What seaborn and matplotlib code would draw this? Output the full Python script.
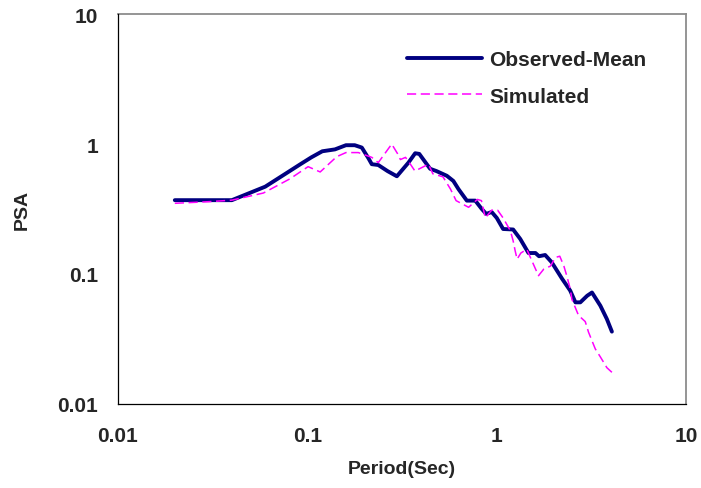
import numpy as np
import pandas as pd
import matplotlib
matplotlib.use("Agg")
import matplotlib.pyplot as plt
from matplotlib.ticker import FixedLocator, NullLocator
import seaborn as sns

# Observed mean spectrum (period in sec, PSA)
obs_period = [0.02, 0.04, 0.06, 0.078, 0.092, 0.105, 0.12, 0.14, 0.16, 0.178, 0.194,
              0.21, 0.219, 0.237, 0.265, 0.297, 0.342, 0.371, 0.39, 0.41, 0.445, 0.48,
              0.545, 0.59, 0.628, 0.695, 0.77, 0.834, 0.88, 0.94, 1.0, 1.08, 1.22, 1.33,
              1.47, 1.60, 1.67, 1.80, 1.95, 2.21, 2.44, 2.6, 2.76, 3.0, 3.18, 3.52, 3.81, 4.05]
obs_psa = [0.37, 0.37, 0.47, 0.60, 0.70, 0.79, 0.88, 0.91, 0.98, 0.98, 0.94,
           0.78, 0.70, 0.69, 0.62, 0.565, 0.72, 0.85, 0.84, 0.76, 0.645, 0.62,
           0.57, 0.52, 0.45, 0.367, 0.367, 0.316, 0.29, 0.30, 0.27, 0.222, 0.22, 0.186,
           0.145, 0.145, 0.137, 0.14, 0.123, 0.092, 0.0745, 0.0605, 0.0605, 0.068, 0.072, 0.057, 0.045, 0.036]

# Simulated spectrum
sim_period = [0.02, 0.03, 0.04, 0.0587, 0.081, 0.101, 0.117, 0.143, 0.16, 0.186, 0.219,
              0.237, 0.279, 0.30, 0.31, 0.33, 0.35, 0.37, 0.436, 0.46, 0.52, 0.57, 0.61,
              0.71, 0.79, 0.83, 0.87, 0.94, 1.01, 1.08, 1.18, 1.22, 1.25, 1.28, 1.34, 1.44,
              1.56, 1.66, 1.77, 1.92, 2.04, 2.15, 2.26, 2.34, 2.44, 2.49, 2.70, 2.93, 3.05,
              3.31, 3.52, 3.81, 4.05]
sim_psa = [0.35, 0.36, 0.37, 0.42, 0.54, 0.67, 0.61, 0.80, 0.86, 0.86, 0.79,
           0.72, 1.0, 0.84, 0.76, 0.79, 0.70, 0.62, 0.70, 0.59, 0.56, 0.45, 0.367,
           0.326, 0.375, 0.367, 0.27, 0.31, 0.31, 0.27, 0.215, 0.18, 0.151, 0.13, 0.145, 0.155,
           0.119, 0.097, 0.109, 0.115, 0.134, 0.137, 0.115, 0.097, 0.077, 0.064, 0.048, 0.043, 0.0356,
           0.0265, 0.023, 0.019, 0.0175]

tick_vals = [0.01, 0.1, 1, 10]
tick_labels = ["0.01", "0.1", "1", "10"]

sns.set_style("white")
plt.rcParams['font.family'] = ['Liberation Sans', 'DejaVu Sans']

fig = plt.figure(figsize=(7.01, 4.89), dpi=100)
ax = fig.add_axes([0.168, 0.172, 0.811, 0.797])

sns.lineplot(x=obs_period, y=obs_psa, sort=False, ax=ax, color="#000080",
             linewidth=2.8, label="Observed-Mean")
sns.lineplot(x=sim_period, y=sim_psa, sort=False, ax=ax, color="#FF00FF",
             linewidth=1.1, label="Simulated")
ax.lines[1].set_dashes([6, 3])

ax.set_xscale("log")
ax.set_yscale("log")
ax.set_xlim(0.01, 10)
ax.set_ylim(0.01, 10)
ax.xaxis.set_major_locator(FixedLocator(tick_vals))
ax.yaxis.set_major_locator(FixedLocator(tick_vals))
ax.xaxis.set_minor_locator(NullLocator())
ax.yaxis.set_minor_locator(NullLocator())
ax.set_xticklabels(tick_labels, fontsize=15, fontweight="bold")
ax.set_yticklabels(tick_labels, fontsize=15, fontweight="bold")
ax.tick_params(axis="both", direction="out", length=5, width=0.8, color="black")
ax.tick_params(axis="x", pad=11)
ax.tick_params(axis="y", pad=9)

# gray plot-area border on top/right, black axes on left/bottom
for side in ["top", "right"]:
    ax.spines[side].set_visible(True)
    ax.spines[side].set_color("#8c8c8c")
    ax.spines[side].set_linewidth(1.3)
for side in ["left", "bottom"]:
    ax.spines[side].set_color("black")
    ax.spines[side].set_linewidth(0.9)
    ax.spines[side].set_zorder(3)

ax.set_xlabel("Period(Sec)", fontsize=14, fontweight="bold")
ax.set_ylabel("PSA", fontsize=14, fontweight="bold")
ax.xaxis.set_label_coords(0.5, -0.143)
ax.yaxis.set_label_coords(-0.153, 0.5)

leg = ax.legend(loc="upper left", bbox_to_anchor=(0.49, 0.935), frameon=False,
                borderpad=0, fontsize=15, handlelength=3.6, handletextpad=0.35,
                labelspacing=0.85)
for t in leg.get_texts():
    t.set_fontweight("bold")

fig.savefig("out.png", dpi=100)
